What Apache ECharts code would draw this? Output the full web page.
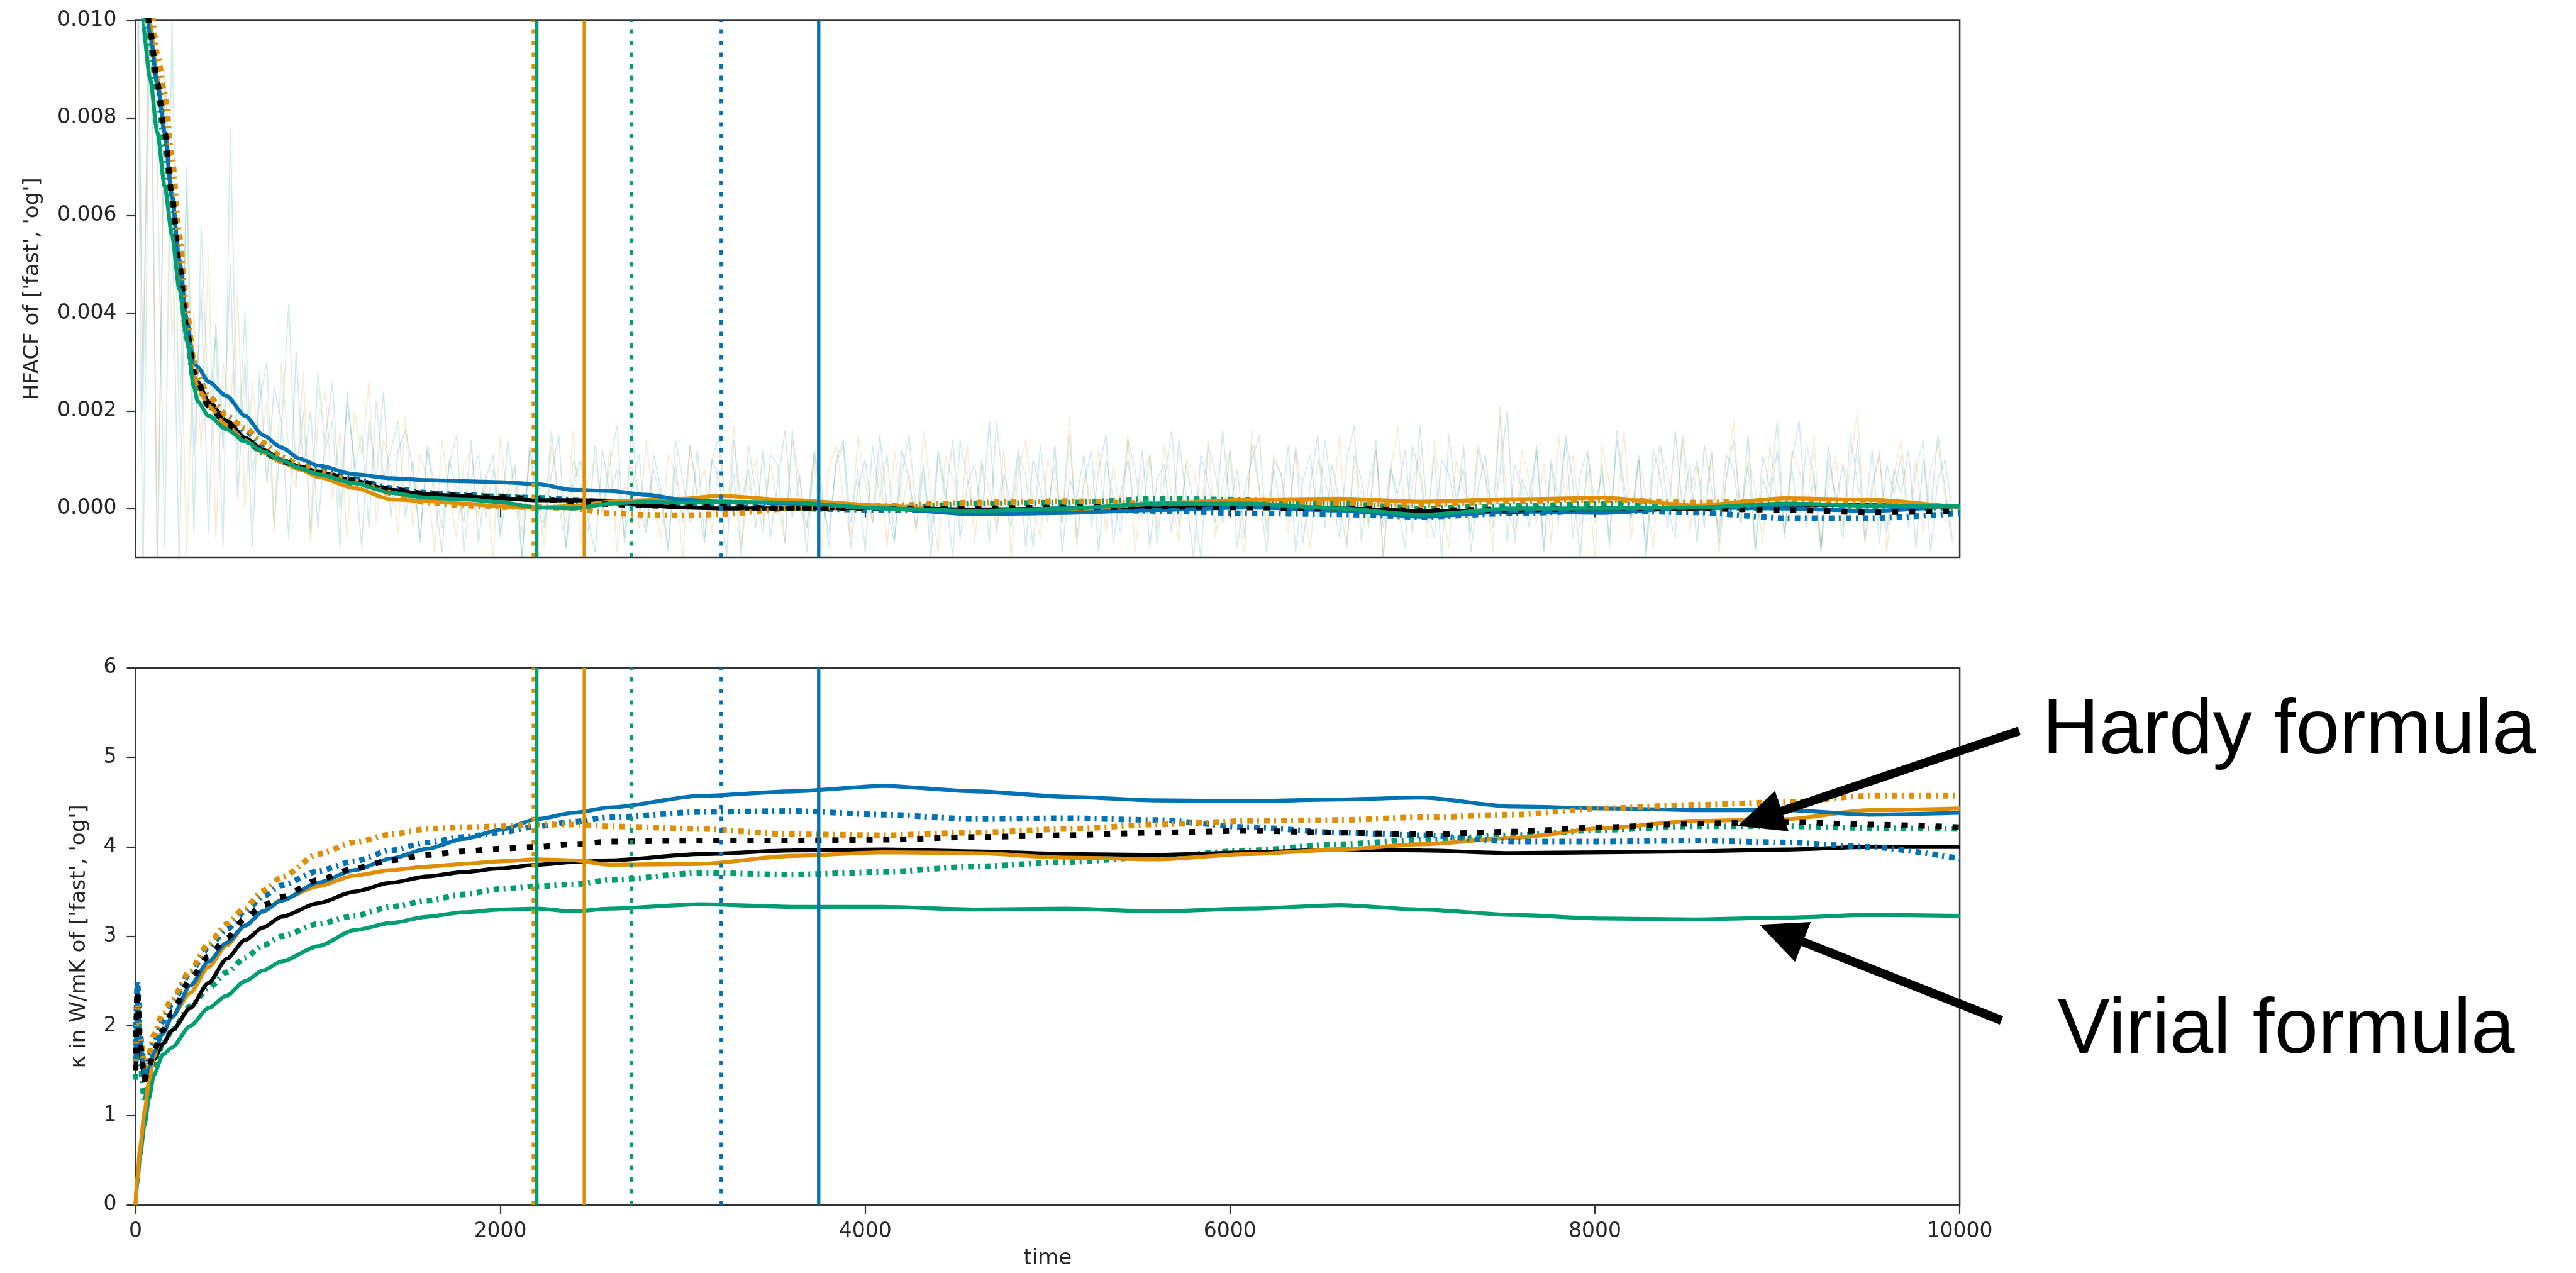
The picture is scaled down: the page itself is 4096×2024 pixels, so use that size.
<!DOCTYPE html>
<html><head><meta charset="utf-8">
<script src="https://cdn.jsdelivr.net/npm/echarts@6/dist/echarts.min.js"></script>
<style>html,body{margin:0;padding:0;background:#fff}#c{width:4096px;height:2024px}</style>
</head><body><div id="c"></div>
<script>
// ---------- bottom panel: kappa (W/mK) vs time ----------
const T_K = [0,10,25,50,75,100,150,200,300,400,500,600,700,800,1000,1200,1400,1600,1800,2000,2200,2400,2600,3100,3600,4100,4600,5100,5600,6100,6600,7050,7550,8050,8550,9050,9500,10000];
const K_BLUE_SOLID   = [1.6,2.45,1.85,1.45,1.55,1.7,1.92,2.1,2.45,2.72,2.93,3.12,3.28,3.4,3.6,3.74,3.87,3.98,4.09,4.19,4.31,4.38,4.44,4.57,4.62,4.68,4.62,4.56,4.52,4.51,4.53,4.55,4.45,4.43,4.41,4.41,4.36,4.38];
const K_BLUE_DD      = [1.6,2.5,1.9,1.5,1.65,1.82,2.05,2.25,2.6,2.88,3.08,3.28,3.45,3.57,3.73,3.84,3.96,4.05,4.11,4.16,4.23,4.28,4.33,4.39,4.40,4.36,4.31,4.32,4.30,4.22,4.16,4.13,4.06,4.06,4.07,4.05,4.0,3.87];
const K_ORANGE_SOLID = [0,0.3,0.65,1.05,1.4,1.65,1.95,2.1,2.37,2.66,2.9,3.12,3.28,3.41,3.56,3.68,3.74,3.78,3.81,3.84,3.86,3.85,3.8,3.81,3.9,3.94,3.93,3.88,3.86,3.92,3.97,4.03,4.1,4.21,4.29,4.31,4.41,4.43];
const K_ORANGE_DD    = [1.5,2.3,1.9,1.55,1.7,1.9,2.15,2.3,2.62,2.92,3.14,3.32,3.51,3.66,3.92,4.05,4.14,4.2,4.22,4.23,4.25,4.25,4.23,4.2,4.14,4.13,4.16,4.2,4.25,4.29,4.3,4.33,4.36,4.43,4.47,4.5,4.57,4.57];
const K_GREEN_SOLID  = [0,0.25,0.55,0.9,1.2,1.45,1.68,1.76,2.0,2.2,2.34,2.5,2.62,2.72,2.89,3.07,3.15,3.22,3.27,3.3,3.31,3.28,3.31,3.36,3.33,3.33,3.30,3.31,3.28,3.31,3.35,3.30,3.24,3.20,3.19,3.21,3.24,3.23];
const K_GREEN_DD     = [1.4,2.3,1.6,1.15,1.35,1.55,1.8,1.95,2.22,2.42,2.6,2.76,2.9,3.0,3.14,3.23,3.33,3.4,3.47,3.53,3.56,3.58,3.63,3.71,3.69,3.72,3.78,3.83,3.89,3.96,4.03,4.08,4.13,4.19,4.23,4.23,4.21,4.2];
const K_BLACK_SOLID  = [1.5,2.2,1.7,1.4,1.5,1.62,1.8,1.95,2.2,2.48,2.75,2.96,3.1,3.22,3.37,3.5,3.6,3.67,3.72,3.76,3.8,3.83,3.85,3.92,3.96,3.97,3.95,3.92,3.91,3.94,3.97,3.96,3.93,3.94,3.95,3.97,4.0,4.0];
const K_BLACK_DOT    = [1.5,2.4,1.8,1.4,1.55,1.72,1.95,2.15,2.52,2.78,2.98,3.2,3.35,3.44,3.63,3.76,3.85,3.91,3.95,3.98,4.0,4.03,4.06,4.07,4.07,4.08,4.11,4.13,4.16,4.18,4.16,4.14,4.17,4.22,4.26,4.28,4.25,4.22];

// ---------- top panel: HFACF vs time ----------
const T_H = [0,40,80,120,160,200,240,280,320,340,400,500,600,700,800,900,1000,1200,1400,1600,1800,2000,2200,2400,2600,2800,3000,3200,3600,4100,4600,5100,5600,6100,6600,7050,7550,8050,8550,9050,9500,10000];
const H_GREEN_SOLID  = [0.0135,0.0099,0.0088,0.0077,0.0066,0.0056,0.0045,0.0035,0.0025,0.0022,0.0019,0.00162,0.00138,0.00117,0.00099,0.00083,0.0007,0.00052,0.00032,0.00022,0.00019,0.00013,0.00002,0.0,0.0001,0.00014,0.00012,0.00014,0.00012,0.0,-0.00005,0.0,0.0001,0.0001,0.0,-0.00013,0.0,0.0,0.00002,0.0001,0.00006,0.00004];
const H_BLACK_DOT    = [0.0125,0.0112,0.0098,0.0087,0.0077,0.0064,0.005,0.0037,0.0028,0.0026,0.0021,0.00175,0.0014,0.00118,0.00098,0.00084,0.00074,0.00058,0.00039,0.0003,0.00026,0.00023,0.0002,0.00014,0.00009,0.00006,0.00004,0.00003,0.0,0.0,0.0,0.00002,0.00004,0.00002,0.0,-0.00004,-0.00002,0.0,0.0,-0.00003,-0.00008,-0.00005];
const H_ORANGE_DOT   = [0.0125,0.0115,0.0104,0.0093,0.0085,0.0072,0.0056,0.0041,0.003,0.0027,0.0023,0.0019,0.00165,0.00135,0.00105,0.0009,0.00076,0.00055,0.00032,0.00012,0.00006,0.00003,0.00003,0.0,-0.0001,-0.00013,-0.00014,-0.00012,0.0,0.00006,0.00012,0.00015,0.0001,0.00015,0.0001,0.00008,0.00015,0.00018,0.00012,0.00015,0.0001,0.00003];
const H_BLUE_SOLID   = [0.0125,0.011,0.0097,0.0087,0.0077,0.0064,0.0051,0.0039,0.003,0.0029,0.0026,0.0023,0.0019,0.0015,0.00125,0.00102,0.00088,0.0007,0.00062,0.00058,0.00056,0.00054,0.0005,0.00038,0.00036,0.00028,0.00018,0.00014,0.0001,0.0,-0.00012,-0.00009,-0.00003,0.00002,-0.00004,-0.00017,-0.00006,-0.00009,0.00002,0.0,-0.00005,0.00006];
const H_BLACK_SOLID  = [0.0125,0.0112,0.0098,0.0087,0.0077,0.0064,0.005,0.0037,0.0027,0.0026,0.0022,0.0018,0.00145,0.0012,0.001,0.00086,0.00075,0.00057,0.00038,0.00029,0.00025,0.00021,0.00017,0.00017,0.00016,0.00006,0.00002,0.0,0.0,0.00001,-0.00002,0.0,0.0,0.00003,0.0,-0.00005,-0.00007,0.0,0.0,0.00008,0.00007,0.00002];
const H_ORANGE_SOLID = [0.0125,0.0112,0.0099,0.0088,0.0077,0.0064,0.005,0.0037,0.0027,0.0025,0.0021,0.0017,0.0014,0.00115,0.00095,0.0008,0.00065,0.00042,0.00019,0.00015,0.0001,0.00004,0.00002,0.00005,0.00014,0.00017,0.0002,0.00026,0.00017,0.00006,-0.00009,-0.00005,0.0001,0.00018,0.0002,0.00014,0.00019,0.00022,0.00006,0.00021,0.00018,0.00002];
const H_GREEN_DOT    = [0.0125,0.0108,0.0095,0.0085,0.0074,0.0061,0.0048,0.0035,0.0026,0.0025,0.0021,0.0017,0.00138,0.00115,0.00096,0.00082,0.0007,0.00052,0.00036,0.00028,0.00026,0.00025,0.0002,0.00015,0.00012,0.0001,0.00008,0.00005,0.0,0.0,0.0001,0.00012,0.0002,0.00018,0.0001,0.0,0.00005,0.0001,0.0,0.00002,0.0,0.0];
const H_BLUE_DOT     = [0.0125,0.0112,0.0099,0.0089,0.0079,0.0066,0.0052,0.004,0.003,0.0027,0.0023,0.0019,0.0016,0.0013,0.00105,0.0009,0.00078,0.0006,0.00042,0.00032,0.00028,0.00024,0.00022,0.00018,0.00012,0.00008,0.00005,0.00003,0.0,-0.00003,-0.00005,-0.00003,-0.00005,-0.0001,-0.00012,-0.00017,-0.0001,-0.00005,-0.00008,-0.0002,-0.0002,-0.0001];

// raw (unsmoothed) HFACF traces, sampled every NOISE_STEP, values in units of NOISE_UNIT
const NOISE_STEP = 40, NOISE_UNIT = 1e-4;
const NOISE_BLUE = [160,20,120,-15,90,60,-12,70, 10,45,-5,38,12,50,2,30,-8,28,
5,25,18,-6,32,8,20,-4,14,26,0,22,10,-8,18,6,24,-2,12,16,
8,-6,12,2,-9,10,4,-3,14,-7,6,11,-5,3,9,-10,13,1,-4,7,
15,-8,5,10,-2,-9,12,3,8,-6,17,0,-5,11,4,-8,9,-3,13,2,
-7,10,6,-10,14,1,8,-4,12,-6,5,16,-2,7,-9,11,3,-5,9,13,
-8,4,10,-3,15,0,-7,12,6,-4,8,-10,11,2,14,-6,5,9,-2,18,
-5,7,1,12,-8,10,4,-3,13,-9,6,2,11,-4,8,15,-7,3,10,-1,
12,-8,6,9,-5,14,2,-10,11,5,-3,16,0,8,-6,13,4,-9,10,7,
-2,12,-7,5,15,-4,9,1,-8,11,6,-3,14,-10,8,3,12,-5,17,0,
-6,10,7,-2,13,-9,4,11,-4,8,20,-7,6,2,12,-8,9,-3,15,5,
-10,11,1,7,-6,14,3,-2,10,-9,12,6,-4,16,0,9,-7,13,4,-5,
11,8,-3,15,-8,6,2,12,-6,10,18,-4,7,-9,13,1,9,-2,14,-7,
5,11,-5,8,3,12,-8,10,-1,15,4,-6];
const NOISE_ORANGE = [140,30,105,-12,85,35,55,-10, 40,12,52,-6,30,20,44,0,26,10,
22,-5,30,12,4,28,-7,18,24,2,16,-6,20,11,26,-3,14,8,-5,19,
-4,11,6,-9,14,3,-6,9,12,-2,7,-10,15,1,8,-5,10,4,-8,13,
2,-3,16,-7,6,10,-1,12,-9,5,9,-4,14,0,-6,11,7,-10,13,3,
8,-5,12,-2,17,-8,4,10,-3,9,1,-7,14,6,-4,11,-9,8,13,2,
-6,15,5,-3,10,-8,12,0,7,-5,16,3,-9,11,6,-2,13,-7,9,4,
-4,12,-10,8,14,1,-6,10,5,-3,19,-8,7,2,12,-5,9,-1,15,-9,
6,11,-4,13,3,-7,10,8,-2,14,-6,5,12,0,-9,16,4,-3,11,7,
-5,13,2,-8,10,6,-1,15,-7,9,3,-4,12,-10,8,17,-3,5,11,-6,
14,1,-8,10,4,-2,13,7,-9,21,0,-5,12,6,-3,9,-7,15,2,11,
-4,8,-10,13,5,-1,16,-6,10,3,-8,12,7,-2,14,-5,9,0,11,-9,
6,18,-3,10,4,-7,13,1,-5,12,8,-2,15,-8,5,11,-4,9,20,-6,
3,12,-9,7,14,-1,10,-5,8,13,2,-7];
const NOISE_GREEN = [150,-18,110,70,-8,100,15,65, -5,58,20,35,-8,78,10,40,5,22,
30,-3,16,42,6,20,-5,28,12,18,-8,24,8,15,-4,22,6,12,18,-2,
10,-7,13,4,-4,9,15,-9,6,11,-2,8,-6,14,3,-10,12,7,-3,16,
1,-8,10,5,-5,13,-1,9,17,-7,4,11,-4,8,2,-9,14,6,-3,12,
-6,10,15,-2,7,-10,13,3,-5,11,9,-7,16,0,-4,12,5,-8,10,14,
-3,8,-9,13,2,11,-6,7,15,-1,9,-5,12,4,-10,14,6,-2,10,-7,
18,3,-4,11,7,-8,13,0,9,-3,15,-6,5,12,-9,10,2,-5,14,8,
-2,11,-7,6,16,-4,9,1,-10,13,7,-3,12,-8,4,10,15,-5,8,-1,
13,-9,6,11,-2,14,3,-6,10,17,-7,5,12,-4,9,0,-8,13,7,-3,
11,-10,15,2,8,-5,12,6,-1,19,-7,9,4,-4,13,-9,10,1,14,-6,
7,12,-3,9,-8,16,5,-2,11,-10,8,13,0,-6,15,3,10,-4,12,-7,
6,14,-1,9,-9,11,4,18,-5,8,-3,13,7,-8,10,2,-6,15,5,-2,
12,-7,9,3,11,-4,8,14,-9,6,10,-1];

// vertical marker lines (time values), drawn in both panels
const V_T     = [2180, 2200, 2460, 2720, 3210, 3745];
const V_COLOR = ['orange','green','orange','green','blue','blue'];
const V_DOT   = [true, false, false, true, true, false];

// axis ranges / ticks
const X_MIN = 0, X_MAX = 10000, X_STEP = 2000;
const H_MIN = -0.001, H_MAX = 0.010, H_TICKS = [0, 0.002, 0.004, 0.006, 0.008, 0.010];
const K_MIN = 0, K_MAX = 6, K_STEP = 1;

// annotations (arrow tip/tail anchored in data coordinates of the bottom panel)
const ANNOT = [
  {text: 'Hardy formula',  tip: [8783, 4.233], tail: [10326, 5.295], tx: 3640, ty: 1164},
  {text: 'Virial formula', tip: [8903, 3.130], tail: [10229, 2.062], tx: 3635, ty: 1640}
];

const COL = {blue:'#0173B2', orange:'#DE8F05', green:'#029E73', black:'#000000'};
const FONT = 'DejaVu Sans';
const TXT = '#262626';
const SPINE = '#333333';

const STYLE = {
  solid:   {width: 6.3, type: 'solid'},
  dashdot: {width: 9, type: [9, 7, 3, 8]},
  dot:     {width: 9, type: [10, 17]}
};

function zip(xs, ys, unit) { return xs.map((x, i) => [x, ys[i] * (unit || 1)]); }

function curve(gi, xs, ys, color, kind, z) {
  return {
    type: 'line', xAxisIndex: gi, yAxisIndex: gi, data: zip(xs, ys),
    showSymbol: false, symbol: 'none', smooth: 0.25, smoothMonotone: 'x', clip: true,
    lineStyle: {color: COL[color], width: STYLE[kind].width, type: STYLE[kind].type, cap: 'butt'},
    z: z || 3, silent: true, animation: false
  };
}
function noise(vals, color) {
  const xs = vals.map((v, i) => i * NOISE_STEP);
  return {
    type: 'line', xAxisIndex: 0, yAxisIndex: 0, data: zip(xs, vals, NOISE_UNIT),
    showSymbol: false, symbol: 'none', clip: true,
    lineStyle: {color: COL[color], width: 1.8, opacity: 0.18},
    z: 1, silent: true, animation: false
  };
}
function vline(gi, t, color, dotted, ymin, ymax) {
  return {
    type: 'line', xAxisIndex: gi, yAxisIndex: gi, data: [[t, ymin], [t, ymax]],
    showSymbol: false, symbol: 'none', clip: true,
    lineStyle: {color: COL[color], width: dotted ? 5 : 5.3, type: dotted ? [7, 11.5] : 'solid', cap: 'butt'},
    z: 6, silent: true, animation: false
  };
}

const series = [
  noise(NOISE_BLUE, 'blue'), noise(NOISE_ORANGE, 'orange'), noise(NOISE_GREEN, 'green'),
  curve(0, T_H, H_BLUE_DOT, 'blue', 'dashdot'),
  curve(0, T_H, H_GREEN_DOT, 'green', 'dashdot'),
  curve(0, T_H, H_BLACK_SOLID, 'black', 'solid'),
  curve(0, T_H, H_ORANGE_SOLID, 'orange', 'solid'),
  curve(0, T_H, H_BLUE_SOLID, 'blue', 'solid'),
  curve(0, T_H, H_ORANGE_DOT, 'orange', 'dashdot', 4),
  curve(0, T_H, H_BLACK_DOT, 'black', 'dot', 4),
  curve(0, T_H, H_GREEN_SOLID, 'green', 'solid', 4),

  curve(1, T_K, K_GREEN_SOLID, 'green', 'solid'),
  curve(1, T_K, K_GREEN_DD, 'green', 'dashdot'),
  curve(1, T_K, K_BLACK_SOLID, 'black', 'solid'),
  curve(1, T_K, K_ORANGE_SOLID, 'orange', 'solid'),
  curve(1, T_K, K_BLUE_SOLID, 'blue', 'solid'),
  curve(1, T_K, K_BLUE_DD, 'blue', 'dashdot'),
  curve(1, T_K, K_ORANGE_DD, 'orange', 'dashdot'),
  curve(1, T_K, K_BLACK_DOT, 'black', 'dot')
];
V_T.forEach((t, i) => {
  series.push(vline(0, t, V_COLOR[i], V_DOT[i], H_MIN, H_MAX));
  series.push(vline(1, t, V_COLOR[i], V_DOT[i], K_MIN, K_MAX));
});

const tickStyle = {show: true, inside: false, length: 14, lineStyle: {color: SPINE, width: 2.2}};
const labelStyle = {fontFamily: FONT, fontSize: 33, color: TXT};
const nameStyle = {fontFamily: FONT, fontSize: 34, color: TXT};

const option = {
  backgroundColor: '#ffffff',
  animation: false,
  grid: [
    {left: 215.5, top: 32.5, width: 2900.6, height: 853.6, show: true, borderColor: SPINE, borderWidth: 2.5, backgroundColor: 'transparent'},
    {left: 215.5, top: 1061.8, width: 2900.6, height: 854.1, show: true, borderColor: SPINE, borderWidth: 2.5, backgroundColor: 'transparent'}
  ],
  xAxis: [
    {gridIndex: 0, type: 'value', min: X_MIN, max: X_MAX, interval: X_STEP,
     axisLine: {show: false}, axisTick: tickStyle, axisLabel: {show: false}, splitLine: {show: false}},
    {gridIndex: 1, type: 'value', min: X_MIN, max: X_MAX, interval: X_STEP,
     axisLine: {show: false}, axisTick: tickStyle, splitLine: {show: false},
     axisLabel: Object.assign({margin: 26, formatter: v => String(v)}, labelStyle),
     name: 'time', nameLocation: 'middle', nameGap: 68, nameTextStyle: nameStyle}
  ],
  yAxis: [
    {gridIndex: 0, type: 'value', min: H_MIN, max: H_MAX,
     axisLine: {show: false}, splitLine: {show: false},
     axisTick: Object.assign({customValues: H_TICKS}, tickStyle),
     axisLabel: Object.assign({customValues: H_TICKS, margin: 30, formatter: v => v.toFixed(3)}, labelStyle),
     name: "HFACF of ['fast', 'og']", nameLocation: 'middle', nameGap: 146, nameTextStyle: nameStyle},
    {gridIndex: 1, type: 'value', min: K_MIN, max: K_MAX, interval: K_STEP,
     axisLine: {show: false}, splitLine: {show: false}, axisTick: tickStyle,
     axisLabel: Object.assign({margin: 30, formatter: v => String(v)}, labelStyle),
     name: "κ in W/mK of ['fast', 'og']", nameLocation: 'middle', nameGap: 72, nameTextStyle: nameStyle}
  ],
  series: series
};

const chart = echarts.init(document.getElementById('c'), null, {renderer: 'canvas', width: 4096, height: 2024});
chart.setOption(option);

// annotation arrows + labels
const HEAD_L = 74, HEAD_W = 34, SHAFT_W = 14;
const gfx = [];
ANNOT.forEach(a => {
  const P = chart.convertToPixel({gridIndex: 1}, a.tip);
  const Q = chart.convertToPixel({gridIndex: 1}, a.tail);
  const dx = Q[0] - P[0], dy = Q[1] - P[1], L = Math.hypot(dx, dy);
  const ux = dx / L, uy = dy / L, px = -uy, py = ux;
  const bx = P[0] + ux * HEAD_L, by = P[1] + uy * HEAD_L;
  gfx.push({type: 'line', silent: true, z: 100,
    shape: {x1: P[0] + ux * (HEAD_L - 4), y1: P[1] + uy * (HEAD_L - 4), x2: Q[0], y2: Q[1]},
    style: {stroke: '#000', lineWidth: SHAFT_W, lineCap: 'butt'}});
  gfx.push({type: 'polygon', silent: true, z: 100,
    shape: {points: [[P[0], P[1]], [bx + px * HEAD_W, by + py * HEAD_W], [bx - px * HEAD_W, by - py * HEAD_W]]},
    style: {fill: '#000'}});
  gfx.push({type: 'text', silent: true, z: 100, x: a.tx, y: a.ty,
    style: {text: a.text, fill: '#000', font: '125px "Liberation Sans"', align: 'center', verticalAlign: 'middle'}});
});
chart.setOption({graphic: gfx});
</script>
</body></html>
